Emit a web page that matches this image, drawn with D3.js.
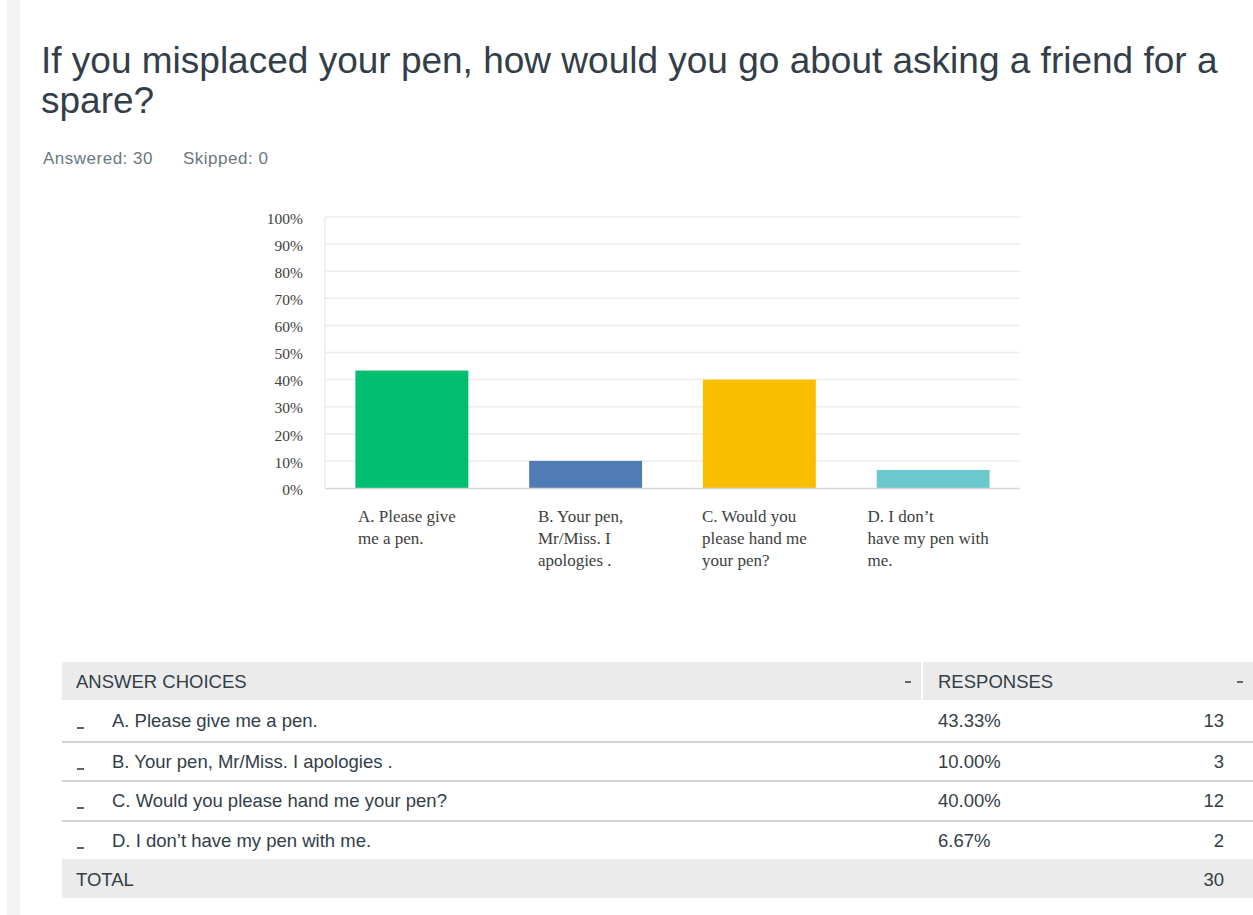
<!DOCTYPE html>
<html>
<head>
<meta charset="utf-8">
<script src="https://cdn.jsdelivr.net/npm/d3@7"></script>
<style>
  html, body { margin: 0; padding: 0; background: #fff; }
  svg { display: block; }
</style>
</head>
<body>
<svg id="chart" width="1253" height="915"></svg>
<script>
// Survey question and response summary
const titleLines = ["If you misplaced your pen, how would you go about asking a friend for a", "spare?"];
const answered = 30;
const skipped = 0;

const choices = ["A. Please give me a pen.", "B. Your pen, Mr/Miss. I apologies .", "C. Would you please hand me your pen?", "D. I don\u2019t have my pen with me."];
const axisLabels = [["A. Please give", "me a pen."], ["B. Your pen,", "Mr/Miss. I", "apologies ."], ["C. Would you", "please hand me", "your pen?"], ["D. I don\u2019t", "have my pen with", "me."]];
const counts = [13, 3, 12, 2];
const percents = [43.33, 10.00, 40.00, 6.67];
const colors = ["#00bf6f", "#507cb6", "#f9be00", "#6bc8cd"];
const yTicks = [0, 10, 20, 30, 40, 50, 60, 70, 80, 90, 100];

const svg = d3.select("#chart");
const sans = "'Liberation Sans', Arial, Helvetica, sans-serif";
const serif = "'Liberation Serif', 'Times New Roman', serif";
const ink = "#333e48";

// page side strip
svg.append("rect").attr("x", 7).attr("y", 0).attr("width", 13).attr("height", 915).attr("fill", "#f3f3f3");

// title
svg.append("g").selectAll("text").data(titleLines).join("text")
  .attr("x", 41).attr("y", (d, i) => 73 + i * 40)
  .attr("font-family", sans).attr("font-size", 37).attr("fill", ink)
  .text(d => d);

const meta = (xp, s) => svg.append("text").attr("x", xp).attr("y", 164)
  .attr("font-family", sans).attr("font-size", 17).attr("letter-spacing", 0.5)
  .attr("fill", "#6b787f").text(s);
meta(43, "Answered: " + answered);
meta(183, "Skipped: " + skipped);

// bar chart
const plot = { left: 325, right: 1020, top: 217, bottom: 488 };
const x = d3.scaleBand().domain(choices).range([plot.left, plot.right]).paddingInner(0.35).paddingOuter(0.175);
const y = d3.scaleLinear().domain([0, 100]).range([plot.bottom, plot.top]);

svg.append("g").selectAll("line").data(yTicks.filter(t => t > 0)).join("line")
  .attr("x1", plot.left).attr("x2", plot.right)
  .attr("y1", d => y(d)).attr("y2", d => y(d))
  .attr("stroke", "#ececec").attr("stroke-width", 1.5);
svg.append("line").attr("x1", plot.left).attr("x2", plot.left)
  .attr("y1", plot.top).attr("y2", plot.bottom)
  .attr("stroke", "#ececec").attr("stroke-width", 1.5);

const yAxis = svg.append("g").attr("transform", `translate(${plot.left - 22},0)`)
  .call(d3.axisLeft(y).tickValues(yTicks).tickFormat(d => d + "%").tickSize(0).tickPadding(0));
yAxis.select(".domain").remove();
yAxis.selectAll("text").attr("font-family", serif).attr("font-size", 15.5).attr("fill", "#404040").attr("dy", "0.4em");

svg.append("g").selectAll("rect").data(choices).join("rect")
  .attr("x", d => x(d)).attr("width", x.bandwidth())
  .attr("y", (d, i) => y(percents[i])).attr("height", (d, i) => plot.bottom - y(percents[i]))
  .attr("fill", (d, i) => colors[i]);

svg.append("line").attr("x1", plot.left).attr("x2", plot.right)
  .attr("y1", plot.bottom + 0.5).attr("y2", plot.bottom + 0.5)
  .attr("stroke", "#d6d6d6").attr("stroke-width", 1.5);

// category labels: left-aligned block centred under each bar
const catG = svg.append("g");
choices.forEach((c, i) => {
  const t = catG.append("text").attr("font-family", serif).attr("font-size", 17).attr("fill", "#404040");
  const spans = axisLabels[i].map((line, j) =>
    t.append("tspan").attr("y", 522 + j * 22).text(line));
  const w = d3.max(spans, s => s.node().getComputedTextLength());
  const x0 = x(c) + x.bandwidth() / 2 - w / 2 - 5;
  spans.forEach(s => s.attr("x", x0));
});

// response table
const tbl = { left: 62, right: 1253, split: 922 };
const headTop = 662, headH = 38;
const rowTops = [700, 742, 781, 821];
const totalTop = 859, totalH = 39;

svg.append("rect").attr("x", tbl.left).attr("y", headTop).attr("width", tbl.split - tbl.left - 1).attr("height", headH).attr("fill", "#ebebeb");
svg.append("rect").attr("x", tbl.split + 1).attr("y", headTop).attr("width", tbl.right - tbl.split - 1).attr("height", headH).attr("fill", "#ebebeb");
svg.append("rect").attr("x", tbl.left).attr("y", totalTop).attr("width", tbl.right - tbl.left).attr("height", totalH).attr("fill", "#ebebeb");

const tText = (xp, yp, s, anchor) => svg.append("text").attr("x", xp).attr("y", yp)
  .attr("font-family", sans).attr("font-size", 18.5).attr("fill", ink)
  .attr("text-anchor", anchor || "start").text(s);

tText(76, 688, "ANSWER CHOICES");
tText(938, 688, "RESPONSES");
// header sort markers
[[905, 911], [1237, 1243]].forEach(([a, b]) =>
  svg.append("line").attr("x1", a).attr("x2", b).attr("y1", 682).attr("y2", 682)
    .attr("stroke", ink).attr("stroke-width", 1.5));

// row separators
svg.append("g").selectAll("line").data(rowTops.slice(1)).join("line")
  .attr("x1", tbl.left).attr("x2", tbl.right)
  .attr("y1", d => d).attr("y2", d => d)
  .attr("stroke", "#d3d3d3").attr("stroke-width", 2);

choices.forEach((c, i) => {
  const base = rowTops[i] + 27 - (i === 0 ? 0 : 1);
  svg.append("line").attr("x1", 77).attr("x2", 84).attr("y1", base + 1).attr("y2", base + 1)
    .attr("stroke", ink).attr("stroke-width", 1.6);
  tText(112, base, c);
  tText(938, base, percents[i].toFixed(2) + "%");
  tText(1224, base, counts[i], "end");
});

tText(76, 886, "TOTAL");
tText(1224, 886, d3.sum(counts), "end");
</script>
</body>
</html>
